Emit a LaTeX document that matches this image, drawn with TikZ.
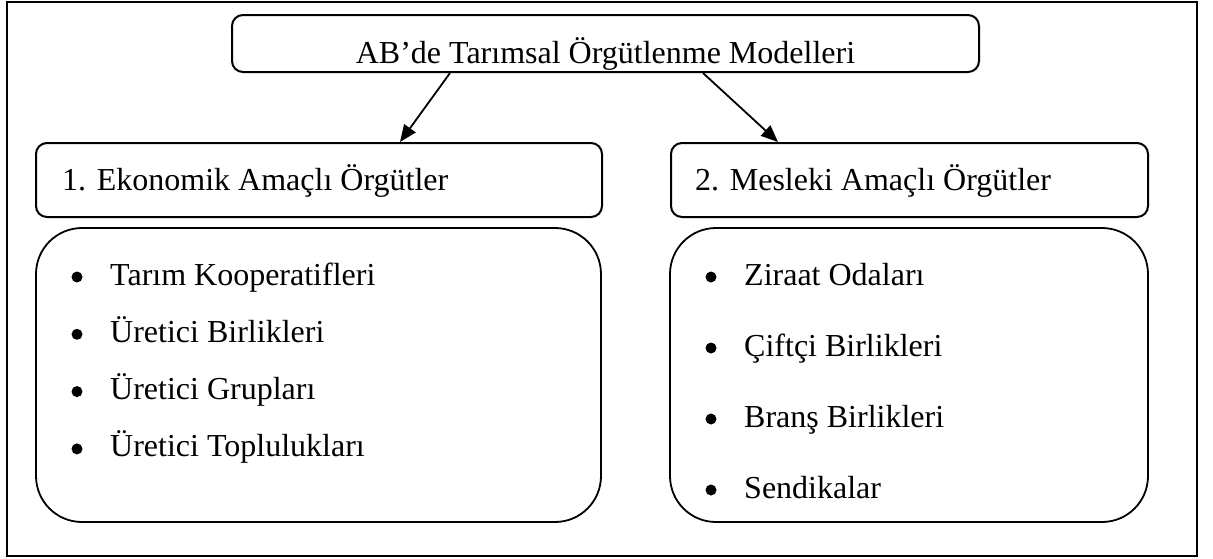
\documentclass[tikz,border=0pt]{standalone}
\usepackage{fontspec}
\setmainfont{Liberation Serif}
\usetikzlibrary{arrows.meta}
\begin{document}
\begin{tikzpicture}[x=1pt,y=-1pt,
  frame/.style={draw, line width=2pt},
  tbox/.style={draw, line width=2pt, rounded corners=11pt, inner sep=0pt},
  lbox/.style={draw, line width=1.8pt, rounded corners=46pt, inner sep=0pt},
  txt/.style={inner sep=0pt, font=\fontsize{32}{38}\selectfont},
  dot/.style={circle, fill=black, inner sep=0pt, minimum size=11pt},
  arr/.style={line width=1.8pt, -{Triangle[length=17pt,width=14pt]}}
]
\useasboundingbox (0,0) rectangle (1213,558);
\draw[frame] (7,2) rectangle (1197,556);

% title
\node[txt, anchor=base] (tt) at (605.5,63) {AB’de Tarımsal Örgütlenme Modelleri};
\node[tbox, minimum width=747pt, minimum height=57pt] (title) at (605.5,43.5) {};

% headers
\node[tbox, minimum width=566pt, minimum height=74pt] (h1) at (319,180) {};
\node[txt, anchor=base west] (h1t) at (62,190) {1. Ekonomik Amaçlı Örgütler};
\node[tbox, minimum width=477pt, minimum height=74pt] (h2) at (909.5,180) {};
\node[txt, anchor=base west] (h2t) at (695,190) {2. Mesleki Amaçlı Örgütler};

% arrows
\draw[arr] ([xshift=-155.5pt]title.south) -- ([xshift=81pt]h1.north);
\draw[arr] ([xshift=97.5pt]title.south) -- ([xshift=-131.5pt]h2.north);

% list boxes
\node[lbox, minimum width=565pt, minimum height=294pt] (l1) at (318.5,375) {};
\node[lbox, minimum width=478pt, minimum height=294pt] (l2) at (909,375) {};

% left items
\node[dot] (a1) at (77,277) {};
\node[txt, anchor=base west] (a1t) at (110,285) {Tarım Kooperatifleri};
\node[dot] (a2) at (77,334.3) {};
\node[txt, anchor=base west] (a2t) at (110,342.3) {Üretici Birlikleri};
\node[dot] (a3) at (77,391.6) {};
\node[txt, anchor=base west] (a3t) at (110,399.6) {Üretici Grupları};
\node[dot] (a4) at (77,448.9) {};
\node[txt, anchor=base west] (a4t) at (110,456.9) {Üretici Toplulukları};

% right items
\node[dot] (b1) at (711,277) {};
\node[txt, anchor=base west] (b1t) at (744,285) {Ziraat Odaları};
\node[dot] (b2) at (711,348) {};
\node[txt, anchor=base west] (b2t) at (744,356) {Çiftçi Birlikleri};
\node[dot] (b3) at (711,419) {};
\node[txt, anchor=base west] (b3t) at (744,427) {Branş Birlikleri};
\node[dot] (b4) at (711,490) {};
\node[txt, anchor=base west] (b4t) at (744,498) {Sendikalar};
\end{tikzpicture}
\end{document}
